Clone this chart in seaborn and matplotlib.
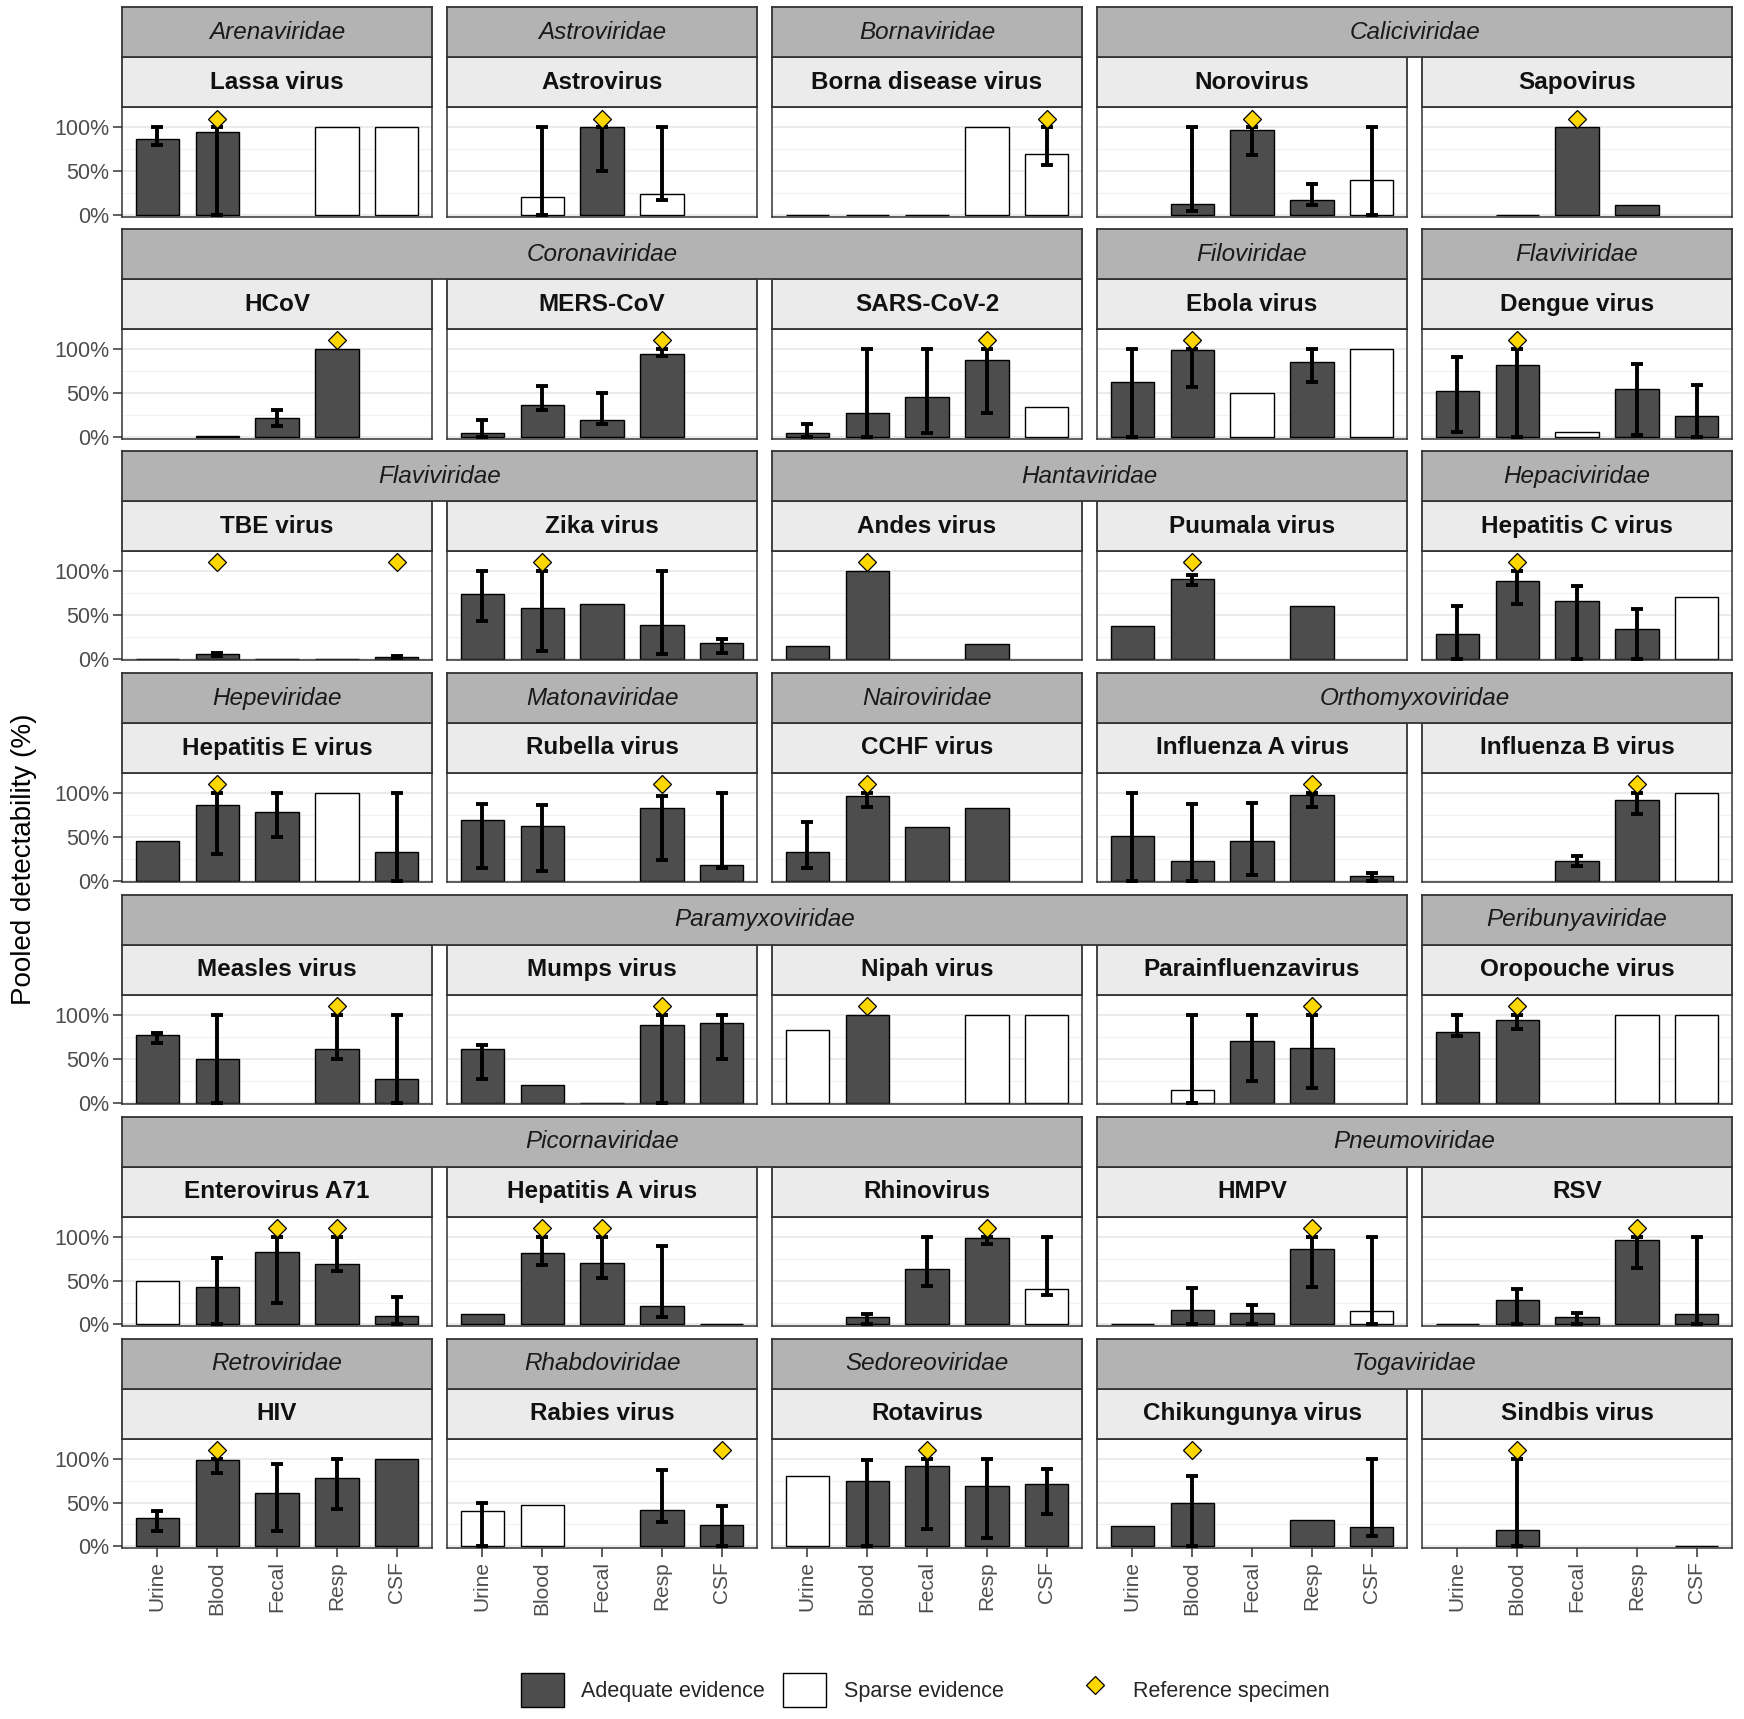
import matplotlib
matplotlib.use("Agg")
import matplotlib.pyplot as plt
from matplotlib.patches import Patch
from matplotlib.lines import Line2D
import numpy as np
import pandas as pd
import seaborn as sns

N = None

# ---------------------------------------------------------------- data
specimens = ["Urine", "Blood", "Fecal", "Resp", "CSF"]

viruses = [
    "Lassa virus", "Astrovirus", "Borna disease virus", "Norovirus", "Sapovirus",
    "HCoV", "MERS-CoV", "SARS-CoV-2", "Ebola virus", "Dengue virus",
    "TBE virus", "Zika virus", "Andes virus", "Puumala virus", "Hepatitis C virus",
    "Hepatitis E virus", "Rubella virus", "CCHF virus", "Influenza A virus", "Influenza B virus",
    "Measles virus", "Mumps virus", "Nipah virus", "Parainfluenzavirus", "Oropouche virus",
    "Enterovirus A71", "Hepatitis A virus", "Rhinovirus", "HMPV", "RSV",
    "HIV", "Rabies virus", "Rotavirus", "Chikungunya virus", "Sindbis virus",
]

families = [
    "Arenaviridae", "Astroviridae", "Bornaviridae", "Caliciviridae", "Caliciviridae",
    "Coronaviridae", "Coronaviridae", "Coronaviridae", "Filoviridae", "Flaviviridae",
    "Flaviviridae", "Flaviviridae", "Hantaviridae", "Hantaviridae", "Hepaciviridae",
    "Hepeviridae", "Matonaviridae", "Nairoviridae", "Orthomyxoviridae", "Orthomyxoviridae",
    "Paramyxoviridae", "Paramyxoviridae", "Paramyxoviridae", "Paramyxoviridae", "Peribunyaviridae",
    "Picornaviridae", "Picornaviridae", "Picornaviridae", "Pneumoviridae", "Pneumoviridae",
    "Retroviridae", "Rhabdoviridae", "Sedoreoviridae", "Togaviridae", "Togaviridae",
]

# pooled detectability (%), order = specimens
estimate = [
    [87, 95, N, 100, 100], [N, 20, 100, 24, N], [0, 0, 0, 100, 70], [N, 13, 97, 17, 40], [N, 0, 100, 11, N],
    [N, 0.5, 22, 100, N], [4, 36, 19, 94, N], [4, 27, 46, 88, 34], [63, 99, 50, 85, 100], [52, 82, 6, 55, 24],
    [0, 5, 0, 0, 2], [74, 58, 63, 38, 18], [14, 100, N, 17, N], [37, 91, N, 60, N], [28, 89, 66, 34, 71],
    [45, 86, 78, 100, 33], [69, 62, N, 83, 18], [33, 96, 61, 83, N], [51, 22, 45, 98, 5], [N, N, 22, 92, 100],
    [77, 50, N, 61, 27], [61, 20, 0, 89, 91], [83, 100, N, 100, 100], [N, 14, 70, 62, N], [80, 94, N, 100, 100],
    [50, 43, 83, 69, 10], [12, 82, 70, 21, 0.5], [N, 8, 63, 99, 41], [0.3, 17, 13, 86, 15], [0.3, 28, 8, 96, 12],
    [32, 98, 61, 78, 100], [40, 47, N, 42, 24], [80, 75, 92, 69, 71], [23, 49, N, 30, 22], [N, 19, N, N, 0.5],
]

# confidence limits (%)
lower = [
    [80, 0, N, N, N], [N, 0, 50, 17, N], [N, N, N, N, 57], [N, 5, 68, 11, 0], [N, N, N, N, N],
    [N, N, 12, N, N], [0, 31, 15, 92, N], [0, 0, 4, 27, N], [0, 57, N, 62, N], [6, 0, N, 2, 0],
    [N, 3, N, N, 1], [43, 9, N, 5, 7], [N, N, N, N, N], [N, 84, N, N, N], [0, 63, 0, 0, N],
    [N, 30, 50, N, 0], [14, 11, N, 24, 14], [14, 84, N, N, N], [0, 0, 6, 84, 0], [N, N, 17, 76, N],
    [68, 0, N, 50, 0], [27, N, N, 0, 50], [N, N, N, N, N], [N, 0, 25, 17, N], [76, 84, N, N, N],
    [N, 0, 25, 61, 0], [N, 68, 53, 9, N], [N, 0, 44, 92, 34], [N, 0, 0, 43, 0], [N, 0, 0, 64, 0],
    [18, 84, 18, 43, N], [0, N, N, 28, 0], [N, 0, 20, 10, 37], [N, 0, N, N, 12], [N, 0, N, N, N],
]
upper = [
    [100, 100, N, N, N], [N, 100, 100, 100, N], [N, N, N, N, 100], [N, 100, 100, 35, 100], [N, N, N, N, N],
    [N, N, 31, N, N], [19, 58, 50, 100, N], [15, 100, 100, 100, N], [100, 100, N, 100, N], [91, 100, N, 83, 59],
    [N, 7, N, N, 3], [100, 100, N, 100, 23], [N, N, N, N, N], [N, 95, N, N, N], [60, 100, 83, 57, N],
    [N, 100, 100, N, 100], [88, 86, N, 97, 100], [67, 100, N, N, N], [100, 87, 89, 100, 9], [N, N, 28, 100, N],
    [79, 100, N, 100, 100], [66, N, N, 100, 100], [N, N, N, N, N], [N, 100, 100, 100, N], [100, 100, N, N, N],
    [N, 76, 100, 100, 31], [N, 100, 100, 90, N], [N, 12, 100, 100, 100], [N, 42, 22, 100, 100], [N, 41, 13, 100, 100],
    [40, 100, 94, 100, N], [50, N, N, 87, 46], [N, 99, 100, 100, 88], [N, 80, N, N, 100], [N, 100, N, N, N],
]

sparse = [
    ["Resp", "CSF"], ["Blood", "Resp"], ["Resp", "CSF"], ["CSF"], [],
    [], [], ["CSF"], ["Fecal", "CSF"], ["Fecal"],
    [], [], [], [], ["CSF"],
    ["Resp"], [], [], [], ["CSF"],
    [], [], ["Urine", "Resp", "CSF"], ["Blood"], ["Resp", "CSF"],
    ["Urine"], [], ["CSF"], ["CSF"], [],
    [], ["Urine", "Blood"], ["Urine"], [], [],
]

reference = [
    ["Blood"], ["Fecal"], ["CSF"], ["Fecal"], ["Fecal"],
    ["Resp"], ["Resp"], ["Resp"], ["Blood"], ["Blood"],
    ["Blood", "CSF"], ["Blood"], ["Blood"], ["Blood"], ["Blood"],
    ["Blood"], ["Resp"], ["Blood"], ["Resp"], ["Resp"],
    ["Resp"], ["Resp"], ["Blood"], ["Resp"], ["Blood"],
    ["Fecal", "Resp"], ["Blood", "Fecal"], ["Resp"], ["Resp"], ["Resp"],
    ["Blood"], ["CSF"], ["Fecal"], ["Blood"], ["Blood"],
]

evidence_levels = ["Adequate evidence", "Sparse evidence"]

# ---------------------------------------------------------------- style
sns.set_theme(style="white")
plt.rcParams["font.family"] = ["Liberation Sans", "DejaVu Sans"]

DARK = "#4d4d4d"
GOLD = "#FFD700"
EDGE = "#333333"
palette = {"Adequate evidence": DARK, "Sparse evidence": "white"}

W, H = 1744, 1719
fig = plt.figure(figsize=(W / 100, H / 100), dpi=100)


def box(x, y, w, h):
    return [x / W, 1 - (y + h) / H, w / W, h / H]


ncol = 5
pw, ph = 309.5, 109.4
col_left = [122.3 + c * 325 for c in range(ncol)]
row_step = 221.9
strip_h = 50


def strip(x, y, w, text, fill, **kw):
    sax = fig.add_axes(box(x, y, w, strip_h))
    sax.set_facecolor(fill)
    sax.set_xticks([])
    sax.set_yticks([])
    for s in sax.spines.values():
        s.set_color(EDGE)
        s.set_linewidth(1.3)
    sax.text(0.5, 0.5, text, ha="center", va="center", fontsize=17.5,
             transform=sax.transAxes, **kw)


# ---------------------------------------------------------------- panels
for i, virus in enumerate(viruses):
    r, c = divmod(i, ncol)
    top = 7.3 + r * row_step

    df = pd.DataFrame({
        "specimen": specimens,
        "value": [np.nan if v is None else v / 100 for v in estimate[i]],
        "evidence": ["Sparse evidence" if s in sparse[i] else "Adequate evidence" for s in specimens],
    }).dropna()

    ax = fig.add_axes(box(col_left[c], top + 2 * strip_h, pw, ph))
    sns.barplot(data=df, x="specimen", y="value", hue="evidence", order=specimens,
                hue_order=evidence_levels, palette=palette, dodge=False, width=0.72,
                edgecolor="black", linewidth=1.0, errorbar=None, legend=False, ax=ax)

    # confidence intervals
    for j, s in enumerate(specimens):
        if lower[i][j] is None:
            continue
        est = estimate[i][j] / 100
        ax.errorbar(j, est, yerr=[[est - lower[i][j] / 100], [upper[i][j] / 100 - est]],
                    fmt="none", ecolor="black", elinewidth=2.8, capsize=4.5, capthick=2.8, zorder=4)

    # reference specimen markers
    ref_x = [specimens.index(s) for s in reference[i]]
    ax.plot(ref_x, [1.1] * len(ref_x), ls="none", marker="D", ms=9, mfc=GOLD,
            mec="black", mew=0.9, zorder=5, clip_on=False)

    ax.set_xlim(-0.583, 4.583)
    ax.set_ylim(-0.02, 1.228)
    ax.set_yticks([0, 0.5, 1])
    ax.set_yticks([0.25, 0.75], minor=True)
    ax.yaxis.grid(True, which="major", color="#ebebeb", lw=1.4)
    ax.yaxis.grid(True, which="minor", color="#f2f2f2", lw=0.8)
    ax.xaxis.grid(False)
    ax.set_axisbelow(True)
    ax.set_xlabel("")
    ax.set_ylabel("")
    for s in ax.spines.values():
        s.set_color(EDGE)
        s.set_linewidth(1.1)

    ax.tick_params(axis="y", which="minor", length=0)
    if c == 0:
        ax.set_yticklabels(["0%", "50%", "100%"])
        ax.tick_params(axis="y", which="major", left=True, length=6.5, width=1.1,
                       color=EDGE, labelsize=15.5, labelcolor=DARK, pad=3)
    else:
        ax.tick_params(axis="y", which="major", left=False, labelleft=False)

    if r == len(viruses) // ncol - 1:
        ax.set_xticks(range(len(specimens)))
        ax.set_xticklabels(specimens, rotation=90)
        ax.tick_params(axis="x", bottom=True, length=6.5, width=1.1, color=EDGE,
                       labelsize=15, labelcolor=DARK, pad=3)
    else:
        ax.tick_params(axis="x", bottom=False, labelbottom=False)

    # virus strip
    strip(col_left[c], top + strip_h, pw, virus, "#ebebeb", fontweight="bold", color="#111111")

# family strips, spanning neighbouring panels of the same family in a row
for r in range(len(viruses) // ncol):
    row_fams = families[r * ncol:(r + 1) * ncol]
    start = 0
    for c in range(1, ncol + 1):
        if c == ncol or row_fams[c] != row_fams[start]:
            x0 = col_left[start]
            x1 = col_left[c - 1] + pw
            strip(x0, 7.3 + r * row_step, x1 - x0, row_fams[start], "#b3b3b3",
                  fontstyle="italic", color="#1a1a1a")
            start = c

fig.text(24 / W, 0.5, "Pooled detectability (%)", rotation=90, ha="center", va="center",
         fontsize=20, color="black")

# ---------------------------------------------------------------- legends
fill_handles = [Patch(facecolor=palette[k], edgecolor="black", lw=1.0, label=k) for k in evidence_levels]
ref_handle = [Line2D([], [], ls="none", marker="D", ms=9, mfc=GOLD, mec="black", mew=0.9,
                     label="Reference specimen")]
leg_kw = dict(loc="center left", frameon=False, fontsize=15.5, handlelength=2.0, handleheight=2.05,
              handletextpad=0.8, columnspacing=0.85, borderpad=0, borderaxespad=0)
fig.legend(handles=fill_handles, ncol=2, bbox_to_anchor=(521 / W, 1 - 1690 / H), **leg_kw)
fig.legend(handles=ref_handle, ncol=1, bbox_to_anchor=(1073 / W, 1 - 1690 / H), **leg_kw)

fig.savefig("out.png", dpi=100)
